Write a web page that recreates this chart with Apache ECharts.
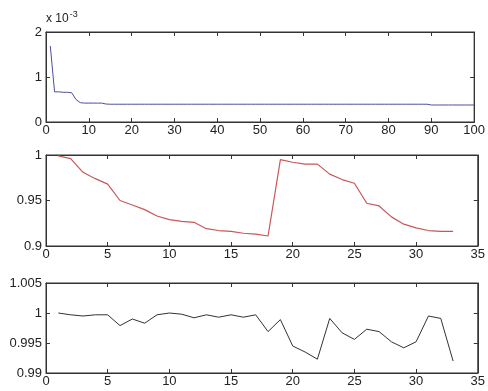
<!DOCTYPE html>
<html><head><meta charset="utf-8">
<script src="https://cdn.jsdelivr.net/npm/echarts@6/dist/echarts.min.js"></script>
<style>html,body{margin:0;padding:0;background:#fff}#c{width:488px;height:391px}</style>
</head><body><div id="c"></div>
<script>
// Top panel: iterations 1..100, values in units of 1e-3
const topX = [];
for (let i = 1; i <= 100; i++) topX.push(i);
const topY = [1.69,0.67,0.67,0.66,0.66,0.65,0.50,0.43,0.42,0.42,
0.42,0.42,0.42,0.40,0.395,0.395,0.395,0.395,0.395,0.395,
0.395,0.395,0.395,0.395,0.395,0.395,0.395,0.395,0.395,0.395,
0.395,0.395,0.395,0.395,0.395,0.395,0.395,0.395,0.395,0.395,
0.395,0.395,0.395,0.395,0.395,0.395,0.395,0.395,0.395,0.395,
0.395,0.395,0.395,0.395,0.395,0.395,0.395,0.395,0.395,0.395,
0.395,0.395,0.395,0.395,0.395,0.395,0.395,0.395,0.395,0.395,
0.395,0.395,0.395,0.395,0.395,0.395,0.395,0.395,0.395,0.395,
0.395,0.395,0.395,0.395,0.395,0.395,0.395,0.395,0.395,0.378,
0.378,0.378,0.378,0.378,0.378,0.378,0.378,0.378,0.378,0.378];
// Middle panel
const midX = [1,2,3,4,5,6,7,8,9,10,11,12,13,14,15,16,17,18,19,20,21,22,23,24,25,26,27,28,29,30,31,32,33];
const midY = [0.999,0.996,0.981,0.974,0.968,0.950,0.945,0.940,0.933,0.929,0.927,0.926,0.919,0.917,0.916,0.914,0.913,0.911,
0.995,0.992,0.990,0.990,0.979,0.973,0.969,0.947,0.944,0.932,0.924,0.920,0.917,0.916,0.916];
// Bottom panel
const botX = midX;
const botY = [1.0000,0.9997,0.9995,0.9997,0.9997,0.9979,0.9990,0.9983,0.9997,1.0000,0.9998,0.9992,0.9997,0.9993,0.9997,0.9993,
0.9997,0.9969,0.9989,0.9945,0.9935,0.9923,0.9991,0.9967,0.9956,0.9973,0.9969,0.9952,0.9942,0.9952,0.9995,0.9991,0.9920];

const topXTicks = [0,100,10], midXTicks = [0,35,5];
const topYTicks = [0,2,1], midYTicks = [0.9,1,0.05], botYTicks = [0.99,1.005,0.005];

const font = 'Liberation Sans, Arial, sans-serif';
const axCol = '#333';
const grids = [
  {left:46, top:32, width:433, height:90},
  {left:46, top:155, width:433, height:91},
  {left:46, top:283, width:433, height:90}
].map(g => Object.assign(g, {show:true, borderColor:axCol, borderWidth:1, backgroundColor:'transparent'}));
const xr = [topXTicks, midXTicks, midXTicks];
const yr = [topYTicks, midYTicks, botYTicks];
const xAxis = [], yAxis = [];
for (let g = 0; g < 3; g++) {
  const base = {gridIndex:g, type:'value', min:xr[g][0], max:xr[g][1], interval:xr[g][2],
    axisLine:{show:true, onZero:false, lineStyle:{color:axCol, width:1}},
    axisTick:{show:true, inside:true, length:4, lineStyle:{color:axCol}},
    splitLine:{show:false}};
  xAxis.push(Object.assign({}, base, {position:'bottom',
    axisLabel:{show:true, color:'#222', fontFamily:font, fontSize:13, margin:2}}));
  xAxis.push(Object.assign({}, base, {position:'top', axisLabel:{show:false}}));
  const ybase = {gridIndex:g, type:'value', min:yr[g][0], max:yr[g][1], interval:yr[g][2],
    axisLine:{show:true, onZero:false, lineStyle:{color:axCol, width:1}},
    axisTick:{show:true, inside:true, length:4, lineStyle:{color:axCol}},
    splitLine:{show:false}};
  yAxis.push(Object.assign({}, ybase, {position:'left',
    axisLabel:{show:true, color:'#222', fontFamily:font, fontSize:13, margin:4}}));
  yAxis.push(Object.assign({}, ybase, {position:'right', axisLabel:{show:false}}));
}
const pairs = (xs, ys) => xs.map((x, i) => [x, ys[i]]);
const option = {
  animation:false,
  backgroundColor:'#fff',
  grid:grids,
  xAxis:xAxis,
  yAxis:yAxis,
  graphic:[{type:'text', left:46, top:10, style:{
    text:'x 10{s|-3}', fill:'#222', font:'12px Liberation Sans, Arial, sans-serif',
    rich:{s:{fontSize:9, fontFamily:font, verticalAlign:'top', padding:[0,0,8,1], fill:'#222'}}}}],
  series:[
    {type:'line', xAxisIndex:0, yAxisIndex:0, data:pairs(topX, topY), showSymbol:false,
      lineStyle:{color:'#4e4e9e', width:1}, itemStyle:{color:'#4e4e9e'}},
    {type:'line', xAxisIndex:2, yAxisIndex:2, data:pairs(midX, midY), showSymbol:false,
      lineStyle:{color:'#c85858', width:1.2}, itemStyle:{color:'#c85858'}},
    {type:'line', xAxisIndex:4, yAxisIndex:4, data:pairs(botX, botY), showSymbol:false,
      lineStyle:{color:'#333', width:1}, itemStyle:{color:'#333'}}
  ]
};
echarts.init(document.getElementById('c'), null, {renderer:'canvas'}).setOption(option);
</script></body></html>
